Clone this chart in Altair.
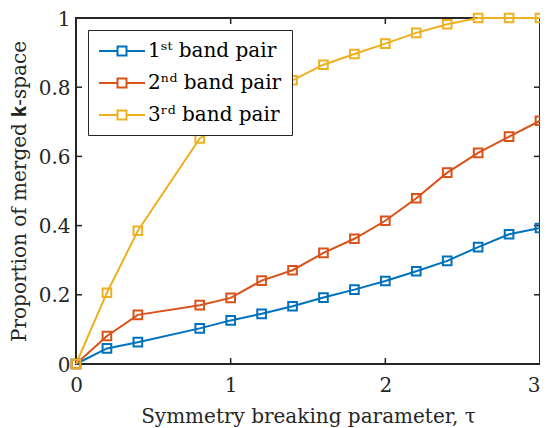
import altair as alt
import pandas as pd

tau = [0.0, 0.2, 0.4, 0.8, 1.0, 1.2, 1.4, 1.6, 1.8, 2.0, 2.2, 2.4, 2.6, 2.8, 3.0]
band1 = [0.0, 0.045, 0.063, 0.103, 0.126, 0.145, 0.167, 0.192, 0.215, 0.240, 0.268, 0.298, 0.338, 0.375, 0.393]
band2 = [0.0, 0.081, 0.142, 0.170, 0.191, 0.241, 0.271, 0.321, 0.362, 0.414, 0.479, 0.553, 0.610, 0.657, 0.703]
band3 = [0.0, 0.206, 0.385, 0.652, 0.720, 0.775, 0.820, 0.865, 0.896, 0.926, 0.957, 0.982, 1.0, 1.0, 1.0]
series_names = ["1ˢᵗ band pair", "2ⁿᵈ band pair", "3ʳᵈ band pair"]
colors = ["#0072BD", "#D95319", "#EDB120"]
x_ticks = [0, 1, 2, 3]
y_ticks = [0, 0.2, 0.4, 0.6, 0.8, 1.0]

rows = []
for name, vals in zip(series_names, [band1, band2, band3]):
    for t, v in zip(tau, vals):
        rows.append({"tau": t, "p": v, "series": name})
df = pd.DataFrame(rows)

W, H = 464, 346
FONT = "DejaVu Serif"
frame = "#262626"

xscale = alt.Scale(domain=[0, 3], nice=False, zero=False)
yscale = alt.Scale(domain=[0, 1], nice=False, zero=False)

color = alt.Color(
    "series:N",
    scale=alt.Scale(domain=series_names, range=colors),
    legend=alt.Legend(
        title=None,
        orient="top-left",
        offset=12,
        symbolType="M-2.3,0H-0.45M0.45,0H2.3M-0.45,-0.45H0.45V0.45H-0.45Z",
        symbolSize=400,
        symbolStrokeWidth=2,
        symbolFillColor="white",
        symbolOffset=13,
        labelFont=FONT,
        labelFontSize=20,
        labelColor="black",
        labelOffset=15,
        rowPadding=11,
        padding=10,
        strokeColor=frame,
        fillColor="white",
        cornerRadius=0,
    ),
)

x = alt.X("tau:Q", scale=xscale,
          axis=alt.Axis(values=x_ticks, title="Symmetry breaking parameter, τ", grid=False,
                        domain=False, ticks=False, labelPadding=11, titlePadding=11,
                        labelFlush=False, format="d",
                        labelAlign={"condition": {"test": "datum.value == 3", "value": "right"}, "value": "center"}))
y = alt.Y("p:Q", scale=yscale,
          axis=alt.Axis(values=y_ticks, title="Proportion of merged 𝐤-space", grid=False,
                        domain=False, ticks=False, labelPadding=6, titlePadding=9,
                        labelFlush=False, labelOffset=1,
                        labelExpr="datum.value == 0 ? '0' : datum.value == 1 ? '1' : format(datum.value, '.1f')"))

lines = alt.Chart(df).mark_line(strokeWidth=2).encode(x=x, y=y, color=color)
pts = alt.Chart(df).mark_point(shape="square", filled=False, size=75, strokeWidth=2, opacity=1).encode(
    x=x, y=y, color=alt.Color("series:N", scale=alt.Scale(domain=series_names, range=colors), legend=None))

xt = pd.DataFrame({"tau": x_ticks})
yt = pd.DataFrame({"p": y_ticks})
tick_style = dict(color=frame, strokeWidth=1.5)
bx = alt.Chart(xt).mark_rule(**tick_style).encode(x=alt.X("tau:Q", scale=xscale), y=alt.value(H), y2=alt.value(H - 6))
tx = alt.Chart(xt).mark_rule(**tick_style).encode(x=alt.X("tau:Q", scale=xscale), y=alt.value(0), y2=alt.value(6))
ly = alt.Chart(yt).mark_rule(**tick_style).encode(y=alt.Y("p:Q", scale=yscale), x=alt.value(0), x2=alt.value(6))
ry = alt.Chart(yt).mark_rule(**tick_style).encode(y=alt.Y("p:Q", scale=yscale), x=alt.value(W), x2=alt.value(W - 6))

chart = alt.layer(bx, tx, ly, ry, lines, pts).properties(
    width=W, height=H,
    background="white",
    autosize=alt.AutoSizeParams(type="none"),
    padding={"left": 68, "top": 10, "right": 0, "bottom": 64},
).configure_view(stroke=frame, strokeWidth=2).configure_axis(
    labelFont=FONT, labelFontSize=20, labelColor="#262626",
    titleFont=FONT, titleFontSize=20, titleFontWeight="normal", titleColor="#262626",
)

chart.save("out.html", embed_options={"renderer": "svg", "actions": False})
